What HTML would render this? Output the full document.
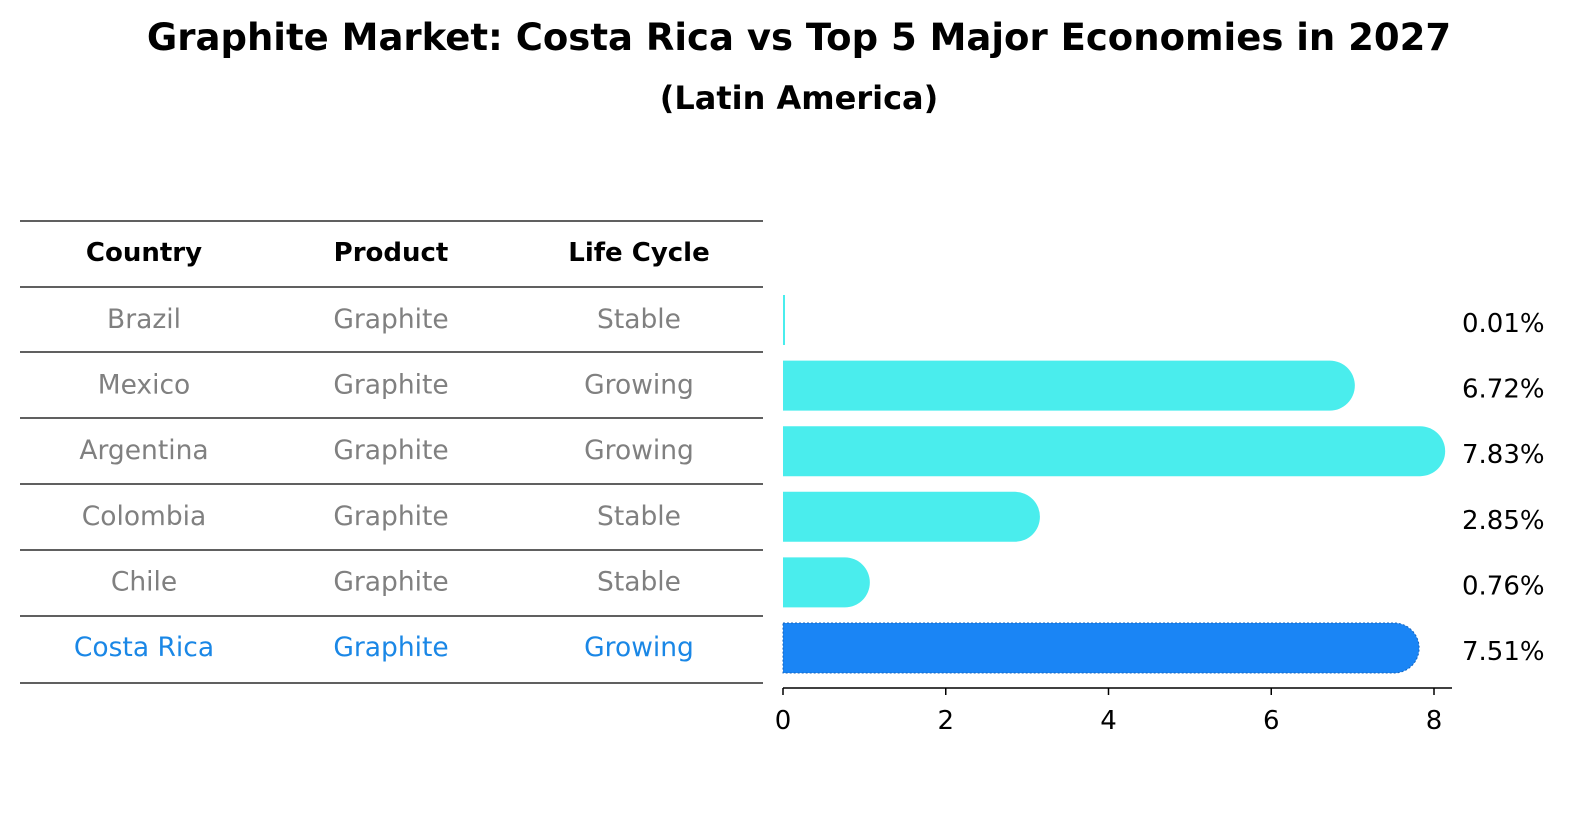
<!DOCTYPE html>
<html><head><meta charset="utf-8"><style>
html,body{margin:0;padding:0;background:#fff;overflow:hidden;width:1586px;height:823px}
svg{display:block}
</style></head><body>
<svg width="1586" height="823" xmlns="http://www.w3.org/2000/svg" font-family="DejaVu Sans, Liberation Sans, sans-serif">
<text x="799" y="50" text-anchor="middle" font-size="37" font-weight="bold">Graphite Market: Costa Rica vs Top 5 Major Economies in 2027</text>
<text x="799" y="109" text-anchor="middle" font-size="32" font-weight="bold">(Latin America)</text>
<g id="table"></g>
<g id="bars"></g>
</svg>
<script>
const countries=["Brazil","Mexico","Argentina","Colombia","Chile","Costa Rica"];
const products=["Graphite","Graphite","Graphite","Graphite","Graphite","Graphite"];
const lifecycle=["Stable","Growing","Growing","Stable","Stable","Growing"];
const values=[0.01,6.72,7.83,2.85,0.76,7.51];
const valueLabels=["0.01%","6.72%","7.83%","2.85%","0.76%","7.51%"];
const ticks=[0,2,4,6,8];
const NS="http://www.w3.org/2000/svg";
function mk(t,a,p){const e=document.createElementNS(NS,t);for(const k in a)e.setAttribute(k,a[k]);p.appendChild(e);return e;}
const x=v=>783+v*651/8;
const rowY=i=>320+i*65.6;
const tbl=document.getElementById('table');
const lineYs=[221,287,352,418,484,550,616,683];
lineYs.forEach((y,i)=>{const l=mk('line',{x1:20,x2:763,y1:y,y2:y,stroke:'#000','stroke-width':1.2},tbl);

});
const cx=[144,391,639];
["Country","Product","Life Cycle"].forEach((h,j)=>{const t=mk('text',{x:cx[j],y:261,'text-anchor':'middle','font-size':26,'font-weight':'bold'},tbl);t.textContent=h;

});
countries.forEach((c,i)=>{const col=i===5?'#1a87e6':'#808080';
[c,products[i],lifecycle[i]].forEach((s,j)=>{const t=mk('text',{x:cx[j],y:rowY(i)+8,'text-anchor':'middle','font-size':26.5,fill:col},tbl);t.textContent=s;

});});
const g=document.getElementById('bars');
values.forEach((v,i)=>{const hl=i===5;const col=hl?'#1a85f5':'#4aeded';const y=rowY(i)-25;
const b=mk('path',{d:`M${x(0)},${y} H${x(v)} A25,25 0 0 1 ${x(v)},${y+50} H${x(0)} Z`,fill:col},g);
if(v<0.05){b.setAttribute('d',`M${x(0)},${y} h2 v50 h-2 Z`);}
if(hl){b.setAttribute('stroke','#1565c0');b.setAttribute('stroke-dasharray','2,2');b.setAttribute('stroke-width','1');}


const t=mk('text',{x:1462,y:rowY(i)+12,'font-size':26},g);t.textContent=valueLabels[i];

});
const ax=mk('line',{x1:x(0),x2:1452,y1:688,y2:688,stroke:'#000','stroke-width':1.5},g);


ticks.forEach(v=>{const l=mk('line',{x1:x(v),x2:x(v),y1:688,y2:695,stroke:'#000','stroke-width':1.5},g);


const t=mk('text',{x:x(v),y:729,'text-anchor':'middle','font-size':26},g);t.textContent=v;

});
</script>
</body></html>
